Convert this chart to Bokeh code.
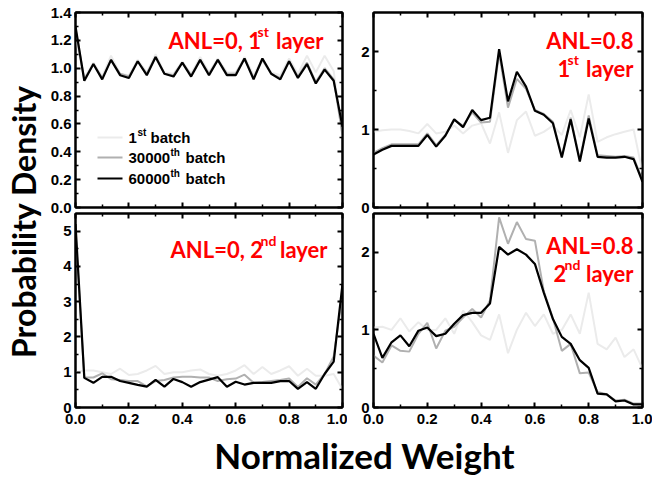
from bokeh.plotting import figure
from bokeh.models import (Range1d, LinearAxis, FixedTicker, Label, PrintfTickFormatter,
                          CustomJSTickFormatter)
from bokeh.layouts import row, column
from bokeh.embed import file_html
from bokeh.resources import INLINE

# ---------------- data ----------------
x_bins = [0.000, 0.033, 0.067, 0.100, 0.133, 0.167, 0.200, 0.233, 0.267, 0.300,
          0.333, 0.367, 0.400, 0.433, 0.467, 0.500, 0.533, 0.567, 0.600, 0.633,
          0.667, 0.700, 0.733, 0.767, 0.800, 0.833, 0.867, 0.900, 0.933, 0.967, 1.000]

# ANL=0, 1st layer
tl_b1 = [1.22, 0.93, 1.04, 0.94, 1.09, 0.96, 0.95, 1.06, 0.97, 1.10, 0.97, 0.96, 1.05, 0.96, 1.08, 0.97,
         1.07, 0.97, 0.97, 1.08, 0.95, 1.07, 0.97, 0.95, 1.07, 0.96, 1.09, 0.97, 1.09, 0.98, 0.50]
tl_b30k = [1.28, 0.92, 1.03, 0.93, 1.06, 0.96, 0.94, 1.05, 0.96, 1.08, 0.96, 0.95, 1.04, 0.95, 1.06, 0.96,
           1.06, 0.96, 0.96, 1.07, 0.93, 1.06, 0.96, 0.93, 1.05, 0.94, 1.04, 0.90, 1.00, 0.92, 0.52]
tl_b60k = [1.30, 0.91, 1.03, 0.92, 1.06, 0.95, 0.93, 1.05, 0.95, 1.08, 0.96, 0.94, 1.04, 0.94, 1.06, 0.95,
           1.06, 0.95, 0.95, 1.07, 0.92, 1.07, 0.96, 0.92, 1.05, 0.93, 1.03, 0.89, 0.99, 0.91, 0.58]

# ANL=0.8, 1st layer
tr_b1 = [0.97, 0.99, 1.00, 1.00, 0.98, 0.95, 1.07, 0.95, 0.97, 1.05, 0.95, 1.05, 1.08, 0.82, 1.22, 0.70,
         1.12, 1.23, 0.92, 0.97, 1.05, 0.93, 1.25, 0.90, 1.45, 0.84, 0.90, 0.94, 0.97, 1.00, 0.45]
tr_b30k = [0.70, 0.76, 0.81, 0.81, 0.81, 0.81, 0.95, 0.80, 0.93, 1.12, 1.05, 1.22, 1.09, 1.10, 1.98, 1.28,
           1.65, 1.52, 1.25, 1.20, 1.10, 0.66, 1.15, 0.61, 1.18, 0.67, 0.66, 0.65, 0.66, 0.64, 0.35]
tr_b60k = [0.68, 0.74, 0.79, 0.79, 0.79, 0.79, 0.93, 0.78, 0.92, 1.13, 1.03, 1.25, 1.12, 1.15, 2.03, 1.36,
           1.74, 1.55, 1.24, 1.19, 1.08, 0.64, 1.13, 0.59, 1.14, 0.65, 0.64, 0.64, 0.65, 0.62, 0.33]

# ANL=0, 2nd layer
bl_b1 = [1.00, 1.05, 1.05, 1.00, 0.95, 1.10, 0.92, 0.95, 1.05, 1.18, 0.95, 1.00, 1.00, 1.05, 1.08, 0.95,
         0.90, 0.95, 1.05, 1.20, 0.95, 1.15, 0.95, 1.05, 1.17, 0.90, 1.10, 0.90, 0.90, 0.95, 0.52]
bl_b30k = [5.00, 0.85, 0.85, 0.97, 0.80, 0.78, 0.75, 0.75, 0.60, 0.75, 0.78, 0.85, 0.87, 0.87, 0.85, 0.85,
           0.75, 0.80, 0.82, 0.93, 0.70, 0.72, 0.75, 0.78, 0.82, 0.58, 0.83, 0.65, 0.95, 1.45, 3.20]
bl_b60k = [5.20, 0.84, 0.70, 0.87, 0.87, 0.75, 0.70, 0.64, 0.59, 0.78, 0.59, 0.81, 0.72, 0.59, 0.72, 0.79,
           0.86, 0.59, 0.73, 0.65, 0.70, 0.70, 0.70, 0.75, 0.75, 0.53, 0.72, 0.53, 0.95, 1.30, 3.50]

# ANL=0.8, 2nd layer
br_b1 = [1.03, 1.04, 1.00, 1.15, 0.98, 1.10, 1.00, 1.00, 1.15, 0.95, 1.25, 1.10, 0.93, 0.87, 1.20, 0.70,
         1.00, 1.22, 1.05, 1.20, 0.95, 1.00, 1.20, 0.95, 1.48, 0.82, 0.75, 0.90, 0.65, 0.75, 0.50]
br_b30k = [0.67, 0.58, 0.80, 0.73, 0.72, 0.95, 1.09, 0.76, 0.99, 1.04, 1.16, 1.27, 1.16, 1.38, 2.45, 2.11,
           2.39, 2.17, 2.15, 1.50, 1.15, 0.73, 0.82, 0.44, 0.45, 0.20, 0.17, 0.09, 0.10, 0.05, 0.05]
br_b60k = [0.95, 0.64, 0.84, 0.93, 0.79, 0.99, 1.03, 0.92, 0.95, 1.08, 1.19, 1.22, 1.22, 1.34, 2.07, 1.97,
           2.04, 1.97, 1.85, 1.48, 1.14, 0.91, 0.82, 0.61, 0.51, 0.18, 0.17, 0.08, 0.09, 0.04, 0.04]

x_ticks = [0.0, 0.2, 0.4, 0.6, 0.8, 1.0]
x_minor = [0.1, 0.3, 0.5, 0.7, 0.9]
tl_yticks = [0.0, 0.2, 0.4, 0.6, 0.8, 1.0, 1.2, 1.4]
tl_yminor = [0.1, 0.3, 0.5, 0.7, 0.9, 1.1, 1.3]
tr_yticks = [0, 1, 2]
tr_yminor = [0.5, 1.5]
bl_yticks = [0, 1, 2, 3, 4, 5]
bl_yminor = [0.5, 1.5, 2.5, 3.5, 4.5]
br_yticks = [0, 1, 2]
br_yminor = [0.5, 1.5]

# ---------------- styles ----------------
COLORS = ["#ebebeb", "#b0b0b0", "#000000"]
WIDTHS = [2, 2, 2.2]
RED = "#ff0000"
TXT_FONT = "Lato"
TICK_FONT = "Liberation Sans"


def style_axis(ax, show):
    ax.axis_line_width = 2
    ax.axis_line_color = "black"
    ax.major_tick_in = 5
    ax.major_tick_out = 0
    ax.minor_tick_in = 3
    ax.minor_tick_out = 0
    ax.major_tick_line_width = 2
    ax.minor_tick_line_width = 1.5
    ax.major_label_text_font = TICK_FONT
    ax.major_label_text_font_style = "bold"
    ax.major_label_text_color = "black"
    ax.major_label_text_font_size = "15px"
    if show:
        ax.major_label_standoff = 4
    else:
        ax.formatter = CustomJSTickFormatter(code="return ''")
        ax.major_label_standoff = 0


def make_panel(ymax, yt, ym, yfmt, show_x, series, mb, fw, fh, border_fill, margin):
    p = figure(frame_width=fw, frame_height=fh, x_range=Range1d(0, 1), y_range=Range1d(0, ymax),
               x_axis_type=None, y_axis_type=None, output_backend="svg", toolbar_location=None,
               min_border_left=mb[0], min_border_right=mb[1], min_border_top=mb[2], min_border_bottom=mb[3],
               background_fill_color="white", border_fill_color=border_fill, margin=margin)
    p.outline_line_color = "black"
    p.outline_line_width = 2
    xt = FixedTicker(ticks=x_ticks, minor_ticks=x_minor)
    ytk = FixedTicker(ticks=yt, minor_ticks=ym)
    for loc, show in (("below", show_x), ("above", False)):
        ax = LinearAxis(ticker=xt, formatter=PrintfTickFormatter(format="%.1f"))
        style_axis(ax, show)
        if show:
            ax.major_label_standoff = 6
        p.add_layout(ax, loc)
    for loc, show in (("left", True), ("right", False)):
        ax = LinearAxis(ticker=ytk, formatter=PrintfTickFormatter(format=yfmt))
        style_axis(ax, show)
        p.add_layout(ax, loc)
    for ys, c, w in zip(series, COLORS, WIDTHS):
        p.line(x_bins, ys, line_color=c, line_width=w)
    return p


# panel frame geometry in page pixels: left, top, width, height
G_TL = (75, 12, 267, 195)
G_TR = (373, 12, 269, 195)
G_BL = (75, 213, 267, 194)
G_BR = (373, 213, 269, 194)
YLAB_W = 46
OVERLAP = 5

left_mb = G_TL[0] - YLAB_W
top_mbb = 5 + OVERLAP
tl = make_panel(1.4, tl_yticks, tl_yminor, "%.1f", False, [tl_b1, tl_b30k, tl_b60k],
                (left_mb, 5, 12, top_mbb), 267, 195, "white", (0, 0, 0, 0))
tr = make_panel(2.5, tr_yticks, tr_yminor, "%d", False, [tr_b1, tr_b30k, tr_b60k],
                (26, 10, 12, top_mbb), 269, 195, "white", (0, 0, 0, 0))
bl = make_panel(5.5, bl_yticks, bl_yminor, "%d", True, [bl_b1, bl_b30k, bl_b60k],
                (left_mb, 5, 1, 26), 267, 194, None, (-OVERLAP, 0, 0, 0))
br = make_panel(2.5, br_yticks, br_yminor, "%d", True, [br_b1, br_b30k, br_b60k],
                (26, 10, 1, 26), 269, 194, None, (-OVERLAP, 0, 0, 0))


def to_data(geom, ymax, px, py):
    left, top, fw, fh = geom
    return (px - left) / fw, (top + fh - py) / fh * ymax


def add_text(p, geom, ymax, px, py, text, size, color=RED, align="left", font=TXT_FONT,
             baseline="alphabetic"):
    x, y = to_data(geom, ymax, px, py)
    p.add_layout(Label(x=x, y=y, text=text, text_font=font, text_font_style="bold",
                       text_font_size=size, text_color=color, text_align=align,
                       text_baseline=baseline))


# panel annotations
BIG = "22px"
SUP = "14px"
add_text(tl, G_TL, 1.4, 168, 40, "ANL=0, 1", BIG)
add_text(tl, G_TL, 1.4, 257, 31, "st", SUP)
add_text(tl, G_TL, 1.4, 323, 40, "layer", BIG, align="right")

add_text(bl, G_BL, 5.5, 170, 249, "ANL=0, 2", BIG)
add_text(bl, G_BL, 5.5, 260, 240, "nd", SUP)
add_text(bl, G_BL, 5.5, 327, 249, "layer", BIG, align="right")

add_text(tr, G_TR, 2.5, 633, 40, "ANL=0.8", BIG, align="right")
add_text(tr, G_TR, 2.5, 557, 68, "1", BIG)
add_text(tr, G_TR, 2.5, 567, 59, "st", SUP)
add_text(tr, G_TR, 2.5, 633, 68, "layer", BIG, align="right")

add_text(br, G_BR, 2.5, 633, 245, "ANL=0.8", BIG, align="right")
add_text(br, G_BR, 2.5, 553, 273, "2", BIG)
add_text(br, G_BR, 2.5, 564, 264, "nd", SUP)
add_text(br, G_BR, 2.5, 633, 273, "layer", BIG, align="right")

# legend (manual, for superscripts)
LEG_ROWS = [137, 157, 178]
LEG_SW = (97, 122)
LEG_PARTS = [("1", "st"), ("30000", "th"), ("60000", "th")]
LEG_SUP_X = [137, 170, 170]
LEG_BATCH_X = [150, 185, 185]
for i, (r, (main, sup)) in enumerate(zip(LEG_ROWS, LEG_PARTS)):
    x0, y0 = to_data(G_TL, 1.4, LEG_SW[0], r)
    x1, _ = to_data(G_TL, 1.4, LEG_SW[1], r)
    tl.segment(x0=[x0], y0=[y0], x1=[x1], y1=[y0], line_color=COLORS[i], line_width=WIDTHS[i])
    add_text(tl, G_TL, 1.4, 128, r, main, "15px", color="black", font=TICK_FONT, baseline="middle")
    add_text(tl, G_TL, 1.4, LEG_SUP_X[i], r - 5, sup, "10px", color="black", font=TICK_FONT,
             baseline="middle")
    add_text(tl, G_TL, 1.4, LEG_BATCH_X[i], r, "batch", "15px", color="black", font=TICK_FONT,
             baseline="middle")


def title_axis(text, size):
    ax = LinearAxis(ticker=FixedTicker(ticks=[]), axis_label=text,
                    formatter=CustomJSTickFormatter(code="return ''"))
    ax.axis_line_color = None
    ax.major_tick_line_color = None
    ax.minor_tick_line_color = None
    ax.major_label_standoff = 0
    ax.axis_label_standoff = 0
    ax.axis_label_text_font = TXT_FONT
    ax.axis_label_text_font_style = "bold"
    ax.axis_label_text_font_size = size
    ax.axis_label_text_color = "black"
    return ax


# big axis titles as axis labels of slim helper figures
ylab = figure(width=YLAB_W, height=477, x_range=Range1d(0, 1), y_range=Range1d(0, 1),
              x_axis_type=None, y_axis_type=None, min_border_left=0, min_border_right=0,
              min_border_top=24, min_border_bottom=59, outline_line_color=None,
              toolbar_location=None, output_backend="svg")
ylab.add_layout(title_axis("Probability Density", "32px"), "left")

xlab = figure(width=652 - YLAB_W, height=44, x_range=Range1d(0, 1), y_range=Range1d(0, 1),
              x_axis_type=None, y_axis_type=None, min_border_left=30, min_border_right=0,
              min_border_top=0, min_border_bottom=0, outline_line_color=None,
              toolbar_location=None, output_backend="svg")
xlab.add_layout(title_axis("Normalized Weight", "35px"), "below")

layout = row(ylab, column(row(tl, tr), row(bl, br), xlab))

with open("out.html", "w") as f:
    f.write(file_html(layout, INLINE))
